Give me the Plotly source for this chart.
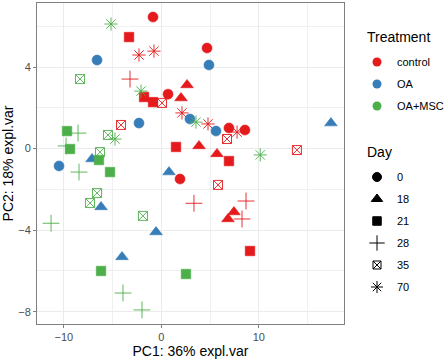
import plotly.graph_objects as go

treatments = ["control", "OA", "OA+MSC"]
days = ["0", "18", "21", "28", "35", "70"]
colors = {"control": "#E41A1C", "OA": "#377EB8", "OA+MSC": "#4DAF4A"}

# control
ctrl_d0_x = [-0.85, 4.69, 0.69, 6.94, 8.58, 1.92]
ctrl_d0_y = [6.45, 4.93, 2.67, 1.01, 0.91, -1.49]
ctrl_d18_x = [2.64, 2.02, 3.87, 5.71, 7.45, 6.84]
ctrl_d18_y = [3.12, 2.48, 0.13, -0.26, -3.11, -3.45]
ctrl_d21_x = [-3.31, -1.77, -0.85, 1.51, 6.94, 9.10]
ctrl_d21_y = [5.47, 2.53, 2.28, 0.08, -0.61, -5.02]
ctrl_d28_x = [-3.21, 3.35, 8.69, 8.28]
ctrl_d28_y = [3.41, -2.68, -2.57, -3.45]
ctrl_d35_x = [0.07, -4.13, 6.74, 13.91, 5.82]
ctrl_d35_y = [2.24, 1.16, 0.47, -0.07, -1.78]
ctrl_d70_x = [-2.29, -0.75, 2.12, 4.79, 7.77]
ctrl_d70_y = [4.59, 4.78, 1.75, 1.21, 0.81]

# OA
oa_d0_x = [-6.59, 4.89, -2.29, 2.94, 5.61, -10.49]
oa_d0_y = [4.34, 4.10, 1.25, 1.45, 0.86, -0.85]
oa_d18_x = [17.40, 0.79, -7.11, -6.18, -0.54, -4.03]
oa_d18_y = [1.25, -1.15, -0.51, -2.86, -4.09, -5.31]

# OA+MSC
msc_d21_x = [-9.67, -9.36, -6.39, -5.26, -6.18, 2.53]
msc_d21_y = [0.86, -0.02, -0.56, -1.15, -6.0, -6.15]
msc_d28_x = [-8.54, -9.77, -8.44, -11.31, -3.93, -1.98]
msc_d28_y = [0.76, 0.13, -1.15, -3.66, -7.08, -7.91]
msc_d35_x = [-8.34, -5.47, -6.29, -6.59, -7.31, -1.88]
msc_d35_y = [3.41, 0.67, -0.17, -2.18, -2.67, -3.30]
msc_d70_x = [-5.16, -2.08, -4.75, 3.56, 10.15]
msc_d70_y = [6.11, 2.82, 0.47, 1.30, -0.31]

symbols = {"0": "circle", "18": "triangle-up", "21": "square",
           "28": "cross-thin-open", "35": "square-x-open", "70": "asterisk-open"}
sizes = {"0": 10, "18": 11, "21": 9.5, "28": 12, "35": 9, "70": 11}

series = [
    ("control", "0", ctrl_d0_x, ctrl_d0_y),
    ("control", "18", ctrl_d18_x, ctrl_d18_y),
    ("control", "21", ctrl_d21_x, ctrl_d21_y),
    ("control", "28", ctrl_d28_x, ctrl_d28_y),
    ("control", "35", ctrl_d35_x, ctrl_d35_y),
    ("control", "70", ctrl_d70_x, ctrl_d70_y),
    ("OA", "0", oa_d0_x, oa_d0_y),
    ("OA", "18", oa_d18_x, oa_d18_y),
    ("OA+MSC", "21", msc_d21_x, msc_d21_y),
    ("OA+MSC", "28", msc_d28_x, msc_d28_y),
    ("OA+MSC", "35", msc_d35_x, msc_d35_y),
    ("OA+MSC", "70", msc_d70_x, msc_d70_y),
]

fig = go.Figure()
for tr, d, xs, ys in series:
    sym = symbols[d]
    open_sym = sym.endswith("open")
    fig.add_trace(go.Scatter(
        x=xs, y=ys, mode="markers", showlegend=False,
        marker=dict(symbol=sym, size=sizes[d], color=colors[tr],
                    line=dict(width=0.9 if open_sym else 0.6, color=colors[tr])),
    ))

W, H = 447, 361
LEG_X = 357  # px, left of each legend box
legend_layouts = {}
k = 0
for i, tr in enumerate(treatments):
    k += 1
    lid = "legend" if k == 1 else "legend%d" % k
    fig.add_trace(go.Scatter(
        x=[None], y=[None], mode="markers", name=tr, legend=lid,
        marker=dict(symbol="circle", size=9, color=colors[tr]),
    ))
    legend_layouts[lid] = dict(xref="container", yref="container",
                               x=LEG_X / W, y=1 - (62 + 22 * i) / H,
                               xanchor="left", yanchor="middle",
                               font=dict(size=11), bgcolor="rgba(0,0,0,0)")
for i, d in enumerate(days):
    k += 1
    lid = "legend%d" % k
    fig.add_trace(go.Scatter(
        x=[None], y=[None], mode="markers", name=d, legend=lid,
        marker=dict(symbol=symbols[d], size=sizes[d] - 1, color="black",
                    line=dict(width=1, color="black")),
    ))
    legend_layouts[lid] = dict(xref="container", yref="container",
                               x=LEG_X / W, y=1 - (177 + 22 * i) / H,
                               xanchor="left", yanchor="middle",
                               font=dict(size=11), bgcolor="rgba(0,0,0,0)")

axis_common = dict(
    showgrid=True, gridcolor="#EBEBEB", gridwidth=1,
    zeroline=False, showline=True, mirror=True, linecolor="#7F7F7F", linewidth=1,
    ticks="outside", ticklen=3, tickcolor="#7F7F7F", automargin=False,
    tickfont=dict(family="Liberation Sans, Arial", size=11, color="#4D4D4D"),
)

fig.update_layout(
    width=W, height=H,
    margin=dict(l=37, r=103, t=3, b=37, autoexpand=False),
    paper_bgcolor="white", plot_bgcolor="white",
    font=dict(family="Liberation Sans, Arial", color="black"),
    xaxis=dict(range=[-12.75, 18.74], tickvals=[-10, 0, 10],
               minor=dict(dtick=5, tick0=0, showgrid=True, gridcolor="#F0F0F0", gridwidth=0.7, ticks=""),
               title=dict(text="PC1: 36% expl.var", font=dict(size=14), standoff=1),
               **axis_common),
    yaxis=dict(range=[-8.6, 7.14], tickvals=[-8, -4, 0, 4],
               minor=dict(dtick=2, tick0=0, showgrid=True, gridcolor="#F0F0F0", gridwidth=0.7, ticks=""),
               title=dict(text="PC2: 18% expl.var", font=dict(size=14), standoff=2),
               **axis_common),
    annotations=[
        dict(text="Treatment", xref="paper", yref="paper", x=(365 - 37) / 307, y=1 - (37 - 3) / 321,
             xanchor="left", yanchor="middle", showarrow=False, font=dict(size=14)),
        dict(text="Day", xref="paper", yref="paper", x=(365 - 37) / 307, y=1 - (152 - 3) / 321,
             xanchor="left", yanchor="middle", showarrow=False, font=dict(size=14)),
    ],
    **legend_layouts,
)

fig.write_html("out.html", config={"displayModeBar": False},
               post_script="document.body.style.margin='0';document.body.style.overflow='hidden';")
